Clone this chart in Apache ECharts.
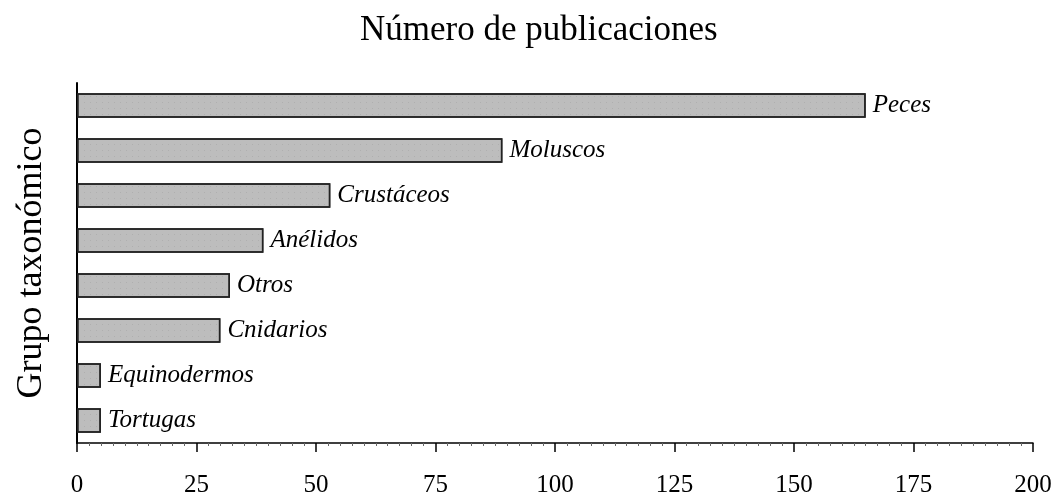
<!DOCTYPE html>
<html>
<head>
<meta charset="utf-8">
<script src="https://cdn.jsdelivr.net/npm/echarts@6/dist/echarts.min.js"></script>
<style>html,body{margin:0;padding:0;background:#fff;}#c{width:1055px;height:497px;}</style>
</head>
<body>
<div id="c"></div>
<script>
const titleText = 'Número de publicaciones';
const yAxisName = 'Grupo taxonómico';
const categories = ['Peces', 'Moluscos', 'Crustáceos', 'Anélidos', 'Otros', 'Cnidarios', 'Equinodermos', 'Tortugas'];
const values = [165, 89, 53, 39, 32, 30, 5, 5];
const xTicks = { min: 0, max: 200, interval: 25 };

const serif = '"Liberation Serif", "DejaVu Serif", serif';
const chart = echarts.init(document.getElementById('c'), null, { renderer: 'canvas' });
chart.setOption({
  animation: false,
  backgroundColor: '#fff',
  title: {
    text: titleText,
    left: 355,
    top: 8,
    textStyle: { fontFamily: serif, fontSize: 35, fontWeight: 'normal', color: '#000' }
  },
  grid: { left: 77, right: 22, top: 83, bottom: 54, containLabel: false, outerBoundsMode: 'none' },
  xAxis: {
    type: 'value',
    min: xTicks.min, max: xTicks.max, interval: xTicks.interval,
    axisLine: { show: true, lineStyle: { color: '#000', width: 1.5 } },
    axisTick: { show: true, length: 9, lineStyle: { color: '#000', width: 1.5 } },
    minorTick: { show: true, splitNumber: 10, length: 3, lineStyle: { color: '#666', width: 1 } },
    splitLine: { show: false },
    axisLabel: { fontFamily: serif, fontSize: 25, color: '#000', margin: 30 }
  },
  yAxis: {
    type: 'category',
    data: categories,
    inverse: true,
    name: yAxisName,
    nameLocation: 'middle',
    nameGap: 27,
    nameTextStyle: { fontFamily: serif, fontSize: 36, color: '#000' },
    axisLine: { show: true, lineStyle: { color: '#000', width: 2 } },
    axisTick: { show: false },
    axisLabel: { show: false },
    splitLine: { show: false }
  },
  series: [{
    type: 'bar',
    data: values,
    barCategoryGap: '46%',
    itemStyle: {
      color: '#bdbdbd',
      borderColor: '#222',
      borderWidth: 1.5,
      decal: {
        symbol: 'rect',
        symbolSize: 0.5,
        color: 'rgba(120,120,120,0.8)',
        dashArrayX: [1, 5],
        dashArrayY: [1, 5],
        rotation: 0
      }
    },
    label: {
      show: true,
      position: 'right',
      distance: 7,
      formatter: '{b}',
      fontFamily: serif,
      fontStyle: 'italic',
      fontSize: 25,
      color: '#000'
    }
  }]
});
</script>
</body>
</html>
